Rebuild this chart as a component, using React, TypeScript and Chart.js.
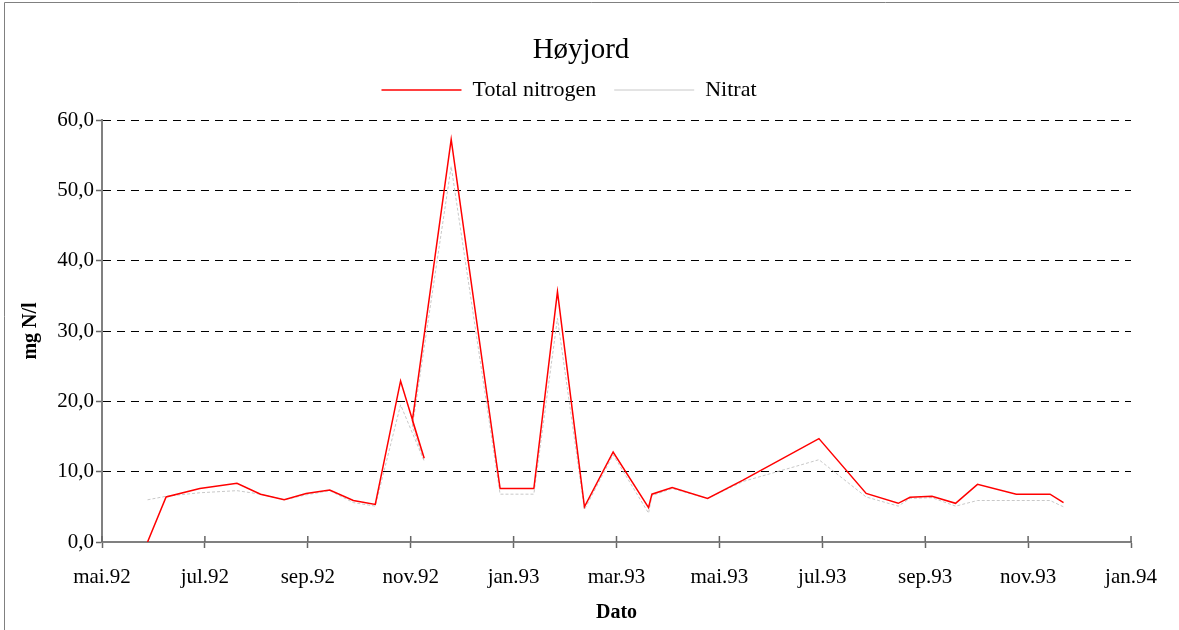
import React, { useEffect, useRef } from "react";
import { Chart, registerables } from "chart.js";

Chart.register(...registerables);

// Sampling dates as days after 1 May 1992
const sampleDays = [27, 38, 58, 80, 94, 108, 121, 135, 149, 162, 177, 191, 184, 207, 236, 256, 270, 286, 303, 324, 326, 338, 359, 380, 425, 453, 472, 479, 492, 506, 519, 542, 562, 570];
const totalNitrogen = [0, 6.4, 7.6, 8.35, 6.8, 6.0, 6.9, 7.4, 5.9, 5.35, 22.9, 11.9, 17.3, 57.25, 7.6, 7.6, 35.6, 5.0, 12.8, 4.9, 6.8, 7.75, 6.2, 8.8, 14.7, 6.9, 5.5, 6.35, 6.5, 5.5, 8.2, 6.8, 6.8, 5.6];
const nitrat = [6.0, 6.5, 7.0, 7.3, 6.8, 6.0, 6.7, 7.3, 5.6, 5.1, 19.5, 11.5, 16.4, 53.4, 6.8, 6.8, 31.8, 4.6, 12.4, 4.1, 6.6, 7.6, 6.2, 8.6, 11.7, 6.4, 5.1, 6.2, 6.3, 5.1, 5.9, 5.9, 5.9, 5.0];
const xTickLabels = ["mai.92", "jul.92", "sep.92", "nov.92", "jan.93", "mar.93", "mai.93", "jul.93", "sep.93", "nov.93", "jan.94"];

const FONT = "'Liberation Serif', 'Times New Roman', serif";

const legendSpacer = {
  id: "legendSpacer",
  beforeLayout(chart: any) {
    const lg = chart.legend;
    if (lg && !lg.__spaced) {
      const orig = lg.fit;
      lg.fit = function () {
        orig.call(this);
        this.height += 9;
      };
      lg.__spaced = true;
    }
  },
  afterLayout(chart: any) {
    const lg = chart.legend;
    if (lg) {
      lg.left -= 24;
    }
  },
};

const decor = {
  id: "decor",
  beforeDraw(chart: any) {
    const ctx = chart.ctx;
    ctx.save();
    ctx.strokeStyle = "#808080";
    ctx.lineWidth = 1;
    ctx.beginPath();
    ctx.moveTo(4.5, chart.height);
    ctx.lineTo(4.5, 2.5);
    ctx.lineTo(chart.width, 2.5);
    ctx.stroke();
    ctx.restore();
  },
  afterDraw(chart: any) {
    const xs = chart.scales.x;
    const ctx = chart.ctx;
    const y = chart.chartArea.bottom;
    ctx.save();
    ctx.strokeStyle = "#666666";
    ctx.lineWidth = 1.5;
    xs.ticks.forEach((t: any) => {
      const px = xs.getPixelForValue(t.value);
      ctx.beginPath();
      ctx.moveTo(px, y - 6);
      ctx.lineTo(px, y);
      ctx.stroke();
    });
    ctx.restore();
  },
};

export default function App() {
  const ref = useRef<HTMLCanvasElement | null>(null);
  useEffect(() => {
    if (!ref.current) return;
    Chart.defaults.color = "#000";
    const chart = new Chart(ref.current, {
      type: "line",
      data: {
        datasets: [
          {
            label: "Total nitrogen",
            data: sampleDays.map((d, i) => ({ x: d, y: totalNitrogen[i] })),
            borderColor: "#ff0000",
            backgroundColor: "#ff0000",
            borderWidth: 1.5,
            pointRadius: 0,
            tension: 0,
          },
          {
            label: "Nitrat",
            data: sampleDays.map((d, i) => ({ x: d, y: nitrat[i] })),
            borderColor: "#c8c8c8",
            backgroundColor: "#c8c8c8",
            borderWidth: 1,
            borderDash: [3, 2],
            pointRadius: 0,
            tension: 0,
          },
        ],
      },
      options: {
        responsive: false,
        animation: false,
        layout: { padding: { top: 0, left: 0, right: 17, bottom: 0 } },
        plugins: {
          tooltip: { enabled: false },
          title: {
            display: true,
            text: "Høyjord",
            color: "#000",
            font: { family: FONT, size: 29, weight: "normal", lineHeight: 1 },
            padding: { top: 36, bottom: -4 },
          },
          legend: {
            display: true,
            labels: {
              usePointStyle: true,
              pointStyle: "line",
              pointStyleWidth: 80,
              padding: 18,
              color: "#000",
              font: { family: FONT, size: 22 },
            },
          },
        },
        scales: {
          x: {
            type: "linear",
            min: 0,
            max: 610,
            afterFit: (s: any) => {
              s.height = 88;
            },
            afterBuildTicks: (s: any) => {
              s.ticks = xTickLabels.map((_, i) => ({ value: i * 61 }));
            },
            ticks: {
              autoSkip: false,
              maxRotation: 0,
              padding: 17,
              font: { family: FONT, size: 21 },
              color: "#000",
              callback: (v: any) => xTickLabels[Math.round(Number(v) / 61)],
            },
            grid: {
              display: true,
              drawOnChartArea: false,
              drawTicks: true,
              tickLength: 6,
              tickColor: "#666666",
              tickWidth: 1.5,
            },
            border: { display: true, color: "#808080", width: 2 },
            title: {
              display: true,
              text: "Dato",
              color: "#000",
              font: { family: FONT, size: 20, weight: "bold" },
              padding: { top: 0, bottom: 5 },
            },
          },
          y: {
            type: "linear",
            min: 0,
            max: 60,
            afterFit: (s: any) => {
              s.width = 102;
            },
            ticks: {
              stepSize: 10,
              padding: 2,
              font: { family: FONT, size: 21 },
              color: "#000",
              callback: (v: any) => Number(v).toFixed(1).replace(".", ","),
            },
            grid: {
              display: true,
              color: "#000",
              lineWidth: 1,
              drawTicks: true,
              tickLength: 6,
              tickColor: "#666666",
              tickWidth: 1.5,
              tickBorderDash: [],
            },
            border: { display: true, color: "#808080", width: 2, dash: [8, 6] },
            title: {
              display: true,
              text: "mg N/l",
              color: "#000",
              font: { family: FONT, size: 20, weight: "bold" },
              padding: { top: 19, bottom: 0 },
            },
          },
          yPad: {
            type: "linear",
            position: "right",
            display: true,
            afterFit: (s: any) => {
              s.width = 31;
            },
            ticks: { display: false },
            grid: { display: false },
            border: { display: false },
          },
        },
      },
      plugins: [legendSpacer, decor],
    } as any);
    return () => chart.destroy();
  }, []);
  return (
    <div style={{ position: "fixed", left: 0, top: 0, width: 1179, height: 630, background: "#fff" }}>
      <canvas ref={ref} width={1179} height={630} />
    </div>
  );
}
